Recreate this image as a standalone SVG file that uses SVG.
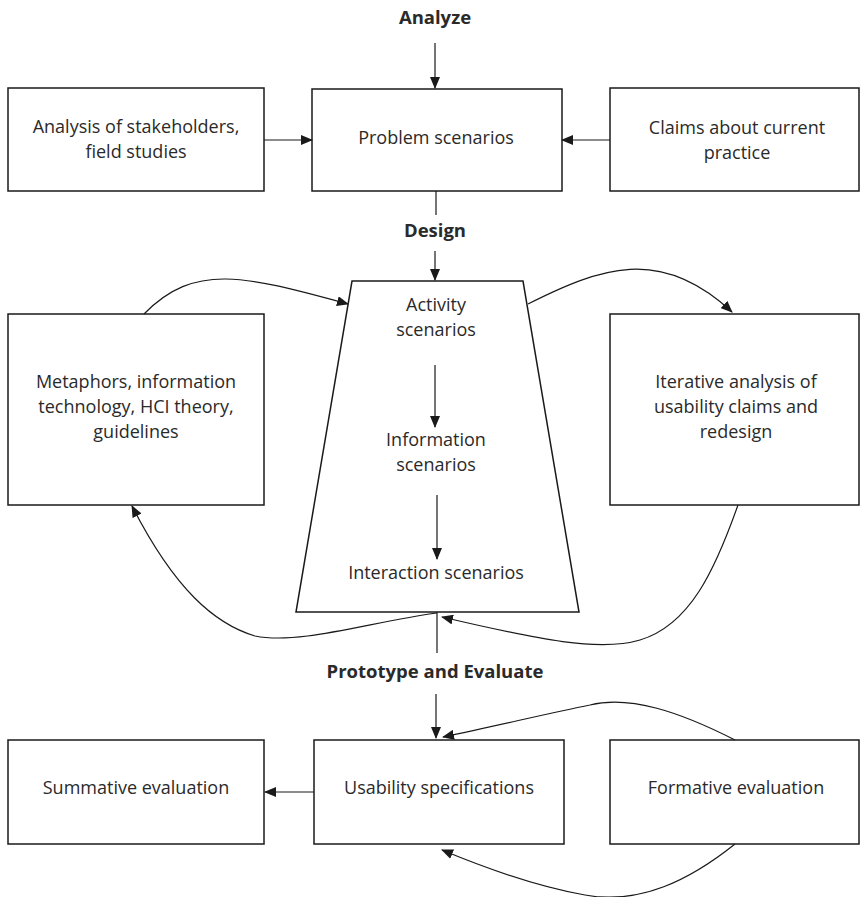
<svg xmlns="http://www.w3.org/2000/svg" width="860" height="897" viewBox="0 0 860 897">
  <style>
    .box { fill: #fff; stroke: #1a1a1a; stroke-width: 1.5; }
    .lbl { font-family: "Open Sans", "Liberation Sans", sans-serif; font-size: 18px; fill: #2a2a2a; text-anchor: middle; }
    .phase { font-family: "Open Sans", "Liberation Sans", sans-serif; font-size: 18.5px; font-weight: bold; fill: #2a2a2a; text-anchor: middle; }
    .conn { fill: none; stroke: #1a1a1a; stroke-width: 1.2; }
  </style>
  <defs>
    <marker id="arrow" markerUnits="userSpaceOnUse" markerWidth="12" markerHeight="10" refX="11" refY="5" orient="auto">
      <path d="M0,0 L12,5 L0,10 Z" fill="#1a1a1a"/>
    </marker>
  </defs>
  <rect width="860" height="897" fill="#fff"/>

  <!-- phase labels -->
  <text class="phase" x="435" y="24">Analyze</text>
  <text class="phase" x="435" y="237">Design</text>
  <text class="phase" x="435" y="678">Prototype and Evaluate</text>

  <!-- Analyze row -->
  <g id="stakeholders">
    <rect class="box" x="8" y="88" width="256" height="103"/>
    <text class="lbl" x="136" y="133">Analysis of stakeholders,</text>
    <text class="lbl" x="136" y="158">field studies</text>
  </g>
  <g id="problem">
    <rect class="box" x="312" y="89" width="250" height="102"/>
    <text class="lbl" x="436" y="144">Problem scenarios</text>
  </g>
  <g id="claims">
    <rect class="box" x="610" y="88" width="249" height="103"/>
    <text class="lbl" x="737" y="134">Claims about current</text>
    <text class="lbl" x="737" y="159">practice</text>
  </g>

  <!-- Design row -->
  <g id="metaphors">
    <rect class="box" x="8" y="314" width="256" height="191"/>
    <text class="lbl" x="136" y="388">Metaphors, information</text>
    <text class="lbl" x="136" y="413">technology, HCI theory,</text>
    <text class="lbl" x="136" y="438">guidelines</text>
  </g>
  <g id="design-scenarios">
    <polygon class="box" points="352,281 523,281 579,612 296,612"/>
    <text class="lbl" x="436" y="311">Activity</text>
    <text class="lbl" x="436" y="336">scenarios</text>
    <text class="lbl" x="436" y="446">Information</text>
    <text class="lbl" x="436" y="471">scenarios</text>
    <text class="lbl" x="436" y="579">Interaction scenarios</text>
  </g>
  <g id="iterative">
    <rect class="box" x="610" y="314" width="249" height="191"/>
    <text class="lbl" x="736" y="388">Iterative analysis of</text>
    <text class="lbl" x="736" y="413">usability claims and</text>
    <text class="lbl" x="736" y="438">redesign</text>
  </g>

  <!-- Prototype and evaluate row -->
  <g id="summative">
    <rect class="box" x="8" y="740" width="256" height="104"/>
    <text class="lbl" x="136" y="794">Summative evaluation</text>
  </g>
  <g id="usability">
    <rect class="box" x="314" y="740" width="250" height="104"/>
    <text class="lbl" x="439" y="794">Usability specifications</text>
  </g>
  <g id="formative">
    <rect class="box" x="610" y="740" width="249" height="104"/>
    <text class="lbl" x="736" y="794">Formative evaluation</text>
  </g>

  <!-- connectors -->
  <g id="connectors">
    <line class="conn" x1="435" y1="43" x2="435" y2="88" marker-end="url(#arrow)"/>
    <line class="conn" x1="264" y1="140" x2="312" y2="140" marker-end="url(#arrow)"/>
    <line class="conn" x1="610" y1="140" x2="562" y2="140" marker-end="url(#arrow)"/>
    <line class="conn" x1="436" y1="191" x2="436" y2="215"/>
    <line class="conn" x1="435" y1="251" x2="435" y2="280" marker-end="url(#arrow)"/>
    <line class="conn" x1="435" y1="365" x2="435" y2="427" marker-end="url(#arrow)"/>
    <line class="conn" x1="437" y1="495" x2="437" y2="559" marker-end="url(#arrow)"/>
    <path class="conn" d="M144,314 C195,262 245,276 348,304" marker-end="url(#arrow)"/>
    <path class="conn" d="M528,304 C600,268 660,245 732,312" marker-end="url(#arrow)"/>
    <path class="conn" d="M437,613 C370,622 300,645 255,636 C215,624 175,590 132,506" marker-end="url(#arrow)"/>
    <path class="conn" d="M738,505 C715,570 690,625 640,640 C600,652 540,640 442,617" marker-end="url(#arrow)"/>
    <line class="conn" x1="437" y1="612" x2="437" y2="653"/>
    <line class="conn" x1="436" y1="694" x2="436" y2="738" marker-end="url(#arrow)"/>
    <line class="conn" x1="314" y1="792" x2="265" y2="792" marker-end="url(#arrow)"/>
    <path class="conn" d="M735,740 C680,712 630,695 590,705 C550,713 500,725 443,737" marker-end="url(#arrow)"/>
    <path class="conn" d="M735,844 C690,880 640,905 585,895 C540,887 490,870 442,850" marker-end="url(#arrow)"/>
  </g>
</svg>
